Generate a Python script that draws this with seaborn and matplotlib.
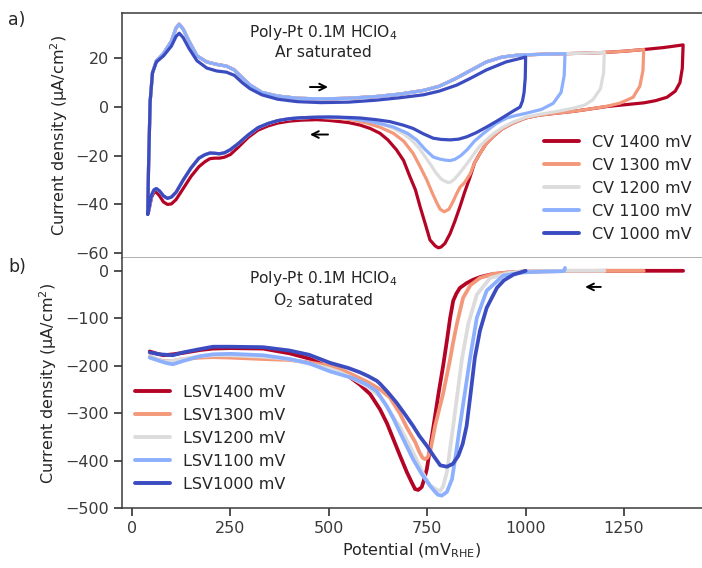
import numpy as np
import pandas as pd
import matplotlib
matplotlib.use("Agg")
import matplotlib.pyplot as plt
import seaborn as sns

# ---------------- data ----------------
cv_labels = ["CV 1400 mV", "CV 1300 mV", "CV 1200 mV", "CV 1100 mV", "CV 1000 mV"]
lsv_labels = ["LSV1400 mV", "LSV1300 mV", "LSV1200 mV", "LSV1100 mV", "LSV1000 mV"]
colors = ["#b40426", "#f4987a", "#dddcdc", "#8db0fe", "#3b4cc0"]

# anodic (forward) sweep, low-potential part
E_fwd_low = [40, 42, 46, 52, 62, 80, 100, 112, 120, 130, 145, 165, 190, 215, 240, 260, 280, 300, 330, 370, 420, 480, 550, 620, 680, 740]
j_fwd_low = [-44, -25, 2, 14, 19, 22, 27, 32.5, 34, 32, 27, 21, 18.5, 17.5, 16.8, 15.2, 12, 9, 6, 4.5, 3.6, 3.3, 3.6, 4.3, 5.3, 6.8]
j_fwd_low_1000 = [-44, -25, 2, 14, 18.5, 21, 25, 29, 30.3, 28.5, 24, 19, 16, 14.8, 14.3, 13, 10, 7.5, 5, 3.2, 2.2, 1.8, 2, 2.8, 3.8, 5]

# anodic sweep, high-potential part
E_fwd_high = [780, 820, 860, 900, 940, 980, 1050, 1100, 1150, 1200, 1250, 1300, 1350, 1400]
j_fwd_high = [8.5, 11.5, 15, 18.5, 20.5, 21.3, 21.7, 21.9, 22.1, 22.4, 22.9, 23.6, 24.4, 25.5]
E_fwd_high_1000 = [780, 825, 860, 900, 950, 1000]
j_fwd_high_1000 = [6.5, 9, 11.8, 15.2, 18.5, 20.5]

# cathodic (backward) sweeps, high-potential part
E_back_1400 = [1400, 1398, 1392, 1380, 1359, 1330, 1300, 1250, 1206, 1160, 1121, 1080, 1036, 1000, 968, 940, 918, 900, 884, 870, 859, 845, 833, 820, 808, 795, 785, 778, 770, 757, 745, 732, 720, 706, 690, 672, 650, 630, 605, 579, 550, 528, 500]
j_back_1400 = [25.5, 16, 10, 6.5, 4, 2.6, 1.7, 0.9, 0.2, -0.9, -1.8, -2.5, -3.3, -4.5, -6.6, -9, -12, -15, -19, -23, -28.6, -35, -41, -47, -52, -56, -57.5, -57.8, -57, -54.6, -48, -41, -34, -28.6, -22, -17.6, -13.5, -10.8, -8.8, -7.4, -6.4, -6, -5.5]
E_back_1300 = [1300, 1298, 1290, 1273, 1240, 1206, 1160, 1121, 1080, 1036, 1000, 968, 940, 918, 900, 884, 870, 859, 845, 833, 825, 815, 805, 793, 783, 775, 762, 749, 732, 714, 690, 664, 630, 597, 560, 528, 500]
j_back_1300 = [23.6, 15, 8.5, 4, 1.6, 0.3, -0.9, -1.8, -2.5, -3.3, -4.5, -6.6, -9, -12, -15, -19, -23, -27.5, -31, -33, -35.5, -39, -42, -43, -42, -39.6, -35, -30, -24.5, -19, -14, -10.8, -8.3, -6.6, -5.3, -4.6, -4.4]
E_back_1200 = [1200, 1198, 1190, 1171, 1150, 1121, 1080, 1036, 1000, 968, 940, 918, 900, 884, 870, 859, 845, 833, 820, 810, 803, 795, 785, 772, 760, 745, 730, 710, 690, 665, 640, 610, 580, 550, 528, 500]
j_back_1200 = [22.4, 14, 7.5, 3, 0.8, -0.5, -1.8, -3, -4.2, -6.2, -8.5, -11, -13.5, -16, -19, -21.5, -24.5, -27, -29.5, -30.8, -31, -30.5, -29.5, -27, -24, -20.5, -17, -13.5, -11, -8.8, -7.3, -6, -5.2, -4.7, -4.5, -4.4]
E_back_1100 = [1100, 1098, 1090, 1070, 1040, 1003, 975, 952, 925, 893, 870, 851, 835, 820, 808, 795, 780, 765, 745, 723, 700, 664, 630, 597, 560, 528, 500]
j_back_1100 = [21.9, 13, 6, 1.5, -1, -2.5, -3.5, -4.5, -6.8, -10.8, -14, -17.6, -20, -21.5, -22, -21.8, -21.3, -20.5, -17.5, -13.5, -10.8, -8.2, -6.8, -5.7, -4.8, -4.2, -4.1]
E_back_1000 = [1000, 999, 996, 992, 986, 970, 952, 930, 901, 875, 851, 830, 808, 785, 765, 740, 714, 690, 655, 620, 579, 550, 528, 500]
j_back_1000 = [20.5, 12, 6, 2.5, 0, -1.5, -3.3, -5.5, -8.2, -10.5, -12.2, -13.2, -13.5, -13.3, -12.8, -11, -8.8, -7.5, -6, -5.2, -4.5, -4.3, -4.2, -4.1]

# cathodic sweep, low-potential part
E_back_low = [470, 430, 400, 370, 345, 320, 295, 270, 250, 235, 222, 210, 198, 185, 170, 150, 130, 112, 100, 90, 80, 70, 62, 56, 50, 46, 43, 40]
j_back_low = [-4.2, -4.4, -4.8, -5.6, -6.8, -8.5, -11.5, -15, -17.5, -18.8, -19.2, -19, -18.9, -19.6, -21, -25, -30, -35, -37, -37.5, -36.5, -34.5, -33.5, -34, -36, -39, -42, -44]
j_back_low_1400 = [-5.2, -5.4, -5.8, -6.6, -7.8, -9.5, -12.5, -16.5, -19.5, -20.6, -21, -21, -21.2, -22.5, -24.5, -28.5, -33.5, -38, -39.8, -40, -39, -36.5, -35, -35, -37, -40, -42.5, -44]

# LSV curves (O2 saturated), swept from E_max down to ~45 mV
E_lsv_1400 = [1400, 1300, 1200, 1100, 1000, 950, 910, 885, 866, 850, 833, 824, 816, 808, 800, 791, 778, 766, 757, 749, 742, 736, 727, 719, 710, 698, 681, 664, 648, 630, 605, 579, 550, 528, 500, 450, 400, 333, 250, 206, 173, 130, 104, 80, 60, 45]
j_lsv_1400 = [0, 0, 0, -0.5, -1.5, -4, -8, -13, -19, -26, -36, -48, -63, -100, -147, -197, -262, -327, -375, -418, -440, -456, -462, -460, -445, -424, -390, -355, -322, -292, -260, -240, -222, -212, -203, -185, -174, -164, -163, -164, -167, -173, -176, -178, -174, -170]
E_lsv_1300 = [1300, 1200, 1100, 1000, 920, 884, 860, 841, 825, 816, 808, 790, 770, 757, 750, 744, 738, 730, 720, 698, 680, 655, 630, 600, 550, 528, 500, 450, 400, 333, 250, 206, 173, 130, 104, 80, 60, 45]
j_lsv_1300 = [0, 0, 0, -1, -6, -15, -30, -57, -113, -150, -187, -260, -327, -383, -394, -397, -394, -382, -362, -330, -300, -267, -250, -235, -215, -207, -200, -193, -188, -186, -183, -182, -183, -186, -190, -190, -186, -180]
E_lsv_1200 = [1200, 1100, 1000, 960, 910, 876, 854, 838, 816, 800, 790, 783, 775, 757, 740, 723, 700, 681, 650, 630, 600, 550, 528, 500, 450, 400, 333, 250, 206, 173, 130, 104, 80, 60, 45]
j_lsv_1200 = [0, 0, -1, -4, -15, -50, -113, -187, -327, -424, -455, -464, -462, -452, -428, -398, -360, -330, -290, -265, -245, -222, -214, -206, -196, -186, -181, -178, -178, -180, -186, -190, -191, -186, -181]
E_lsv_1100 = [1100, 1098, 1090, 1050, 1000, 943, 901, 876, 859, 846, 833, 823, 813, 800, 787, 777, 768, 757, 735, 714, 698, 681, 665, 647, 630, 622, 597, 560, 503, 450, 400, 333, 250, 206, 173, 130, 104, 90, 70, 45]
j_lsv_1100 = [6, 0, -1, -1.5, -3, -10, -42, -99, -183, -255, -327, -385, -439, -466, -474, -472, -464, -453, -427, -397, -370, -341, -313, -285, -264, -254, -240, -226, -212, -195, -186, -178, -175, -176, -180, -190, -197, -195, -190, -183]
E_lsv_1000 = [1000, 969, 945, 927, 901, 884, 871, 860, 850, 840, 829, 815, 800, 783, 766, 749, 730, 714, 693, 672, 650, 630, 622, 600, 579, 550, 503, 450, 400, 333, 250, 206, 173, 130, 104, 70, 45]
j_lsv_1000 = [0, -8, -20, -36, -78, -126, -183, -260, -327, -365, -390, -407, -413, -410, -390, -369, -348, -327, -302, -278, -256, -238, -232, -222, -214, -205, -194, -177, -168, -161, -160, -160, -165, -172, -178, -176, -172]

# ---------------- assemble tables ----------------
def cv_curve(label, Emax, E_hi, j_hi, jlow_f, E_b, j_b, jlow_b):
    E_h = [e for e in E_hi if e <= Emax]
    j_h = [j for e, j in zip(E_hi, j_hi) if e <= Emax]
    E = list(E_fwd_low) + E_h + list(E_b) + list(E_back_low)
    J = list(jlow_f) + j_h + list(j_b) + list(jlow_b)
    return pd.DataFrame({"E": E, "j": J, "label": label})

cv_df = pd.concat([
    cv_curve(cv_labels[0], 1400, E_fwd_high, j_fwd_high, j_fwd_low, E_back_1400, j_back_1400, j_back_low_1400),
    cv_curve(cv_labels[1], 1300, E_fwd_high, j_fwd_high, j_fwd_low, E_back_1300, j_back_1300, j_back_low),
    cv_curve(cv_labels[2], 1200, E_fwd_high, j_fwd_high, j_fwd_low, E_back_1200, j_back_1200, j_back_low),
    cv_curve(cv_labels[3], 1100, E_fwd_high, j_fwd_high, j_fwd_low, E_back_1100, j_back_1100, j_back_low),
    cv_curve(cv_labels[4], 1000, E_fwd_high_1000, j_fwd_high_1000, j_fwd_low_1000, E_back_1000, j_back_1000, j_back_low),
], ignore_index=True)

lsv_df = pd.concat([
    pd.DataFrame({"E": E_lsv_1400, "j": j_lsv_1400, "label": lsv_labels[0]}),
    pd.DataFrame({"E": E_lsv_1300, "j": j_lsv_1300, "label": lsv_labels[1]}),
    pd.DataFrame({"E": E_lsv_1200, "j": j_lsv_1200, "label": lsv_labels[2]}),
    pd.DataFrame({"E": E_lsv_1100, "j": j_lsv_1100, "label": lsv_labels[3]}),
    pd.DataFrame({"E": E_lsv_1000, "j": j_lsv_1000, "label": lsv_labels[4]}),
], ignore_index=True)

# ---------------- style ----------------
sns.set_theme(style="ticks", rc={"axes.edgecolor": "#3a3a3a", "xtick.color": "#3a3a3a",
                                 "ytick.color": "#3a3a3a", "axes.linewidth": 1.1})
plt.rcParams["font.family"] = ["DejaVu Sans"]
FS = 11.5

fig = plt.figure(figsize=(7.02, 5.68), dpi=100)
L, W = 122 / 702, 580 / 702
ax1 = fig.add_axes([L, 1 - 258 / 568, W, (258 - 13) / 568])
ax2 = fig.add_axes([L, 1 - 508 / 568, W, (508 - 258) / 568])

sns.lineplot(data=cv_df, x="E", y="j", hue="label", hue_order=cv_labels, palette=colors,
             sort=False, estimator=None, lw=2.3, ax=ax1)
sns.lineplot(data=lsv_df, x="E", y="j", hue="label", hue_order=lsv_labels, palette=colors,
             sort=False, estimator=None, lw=2.7, ax=ax2)

xlim = (-25.4, 1448)
ax1.set_xlim(xlim)
ax2.set_xlim(xlim)
ax1.set_ylim(-62, 38.6)
ax2.set_ylim(-500, 27)

ax1.set_yticks([-60, -40, -20, 0, 20])
ax2.set_yticks([-500, -400, -300, -200, -100, 0])
ax2.set_xticks([0, 250, 500, 750, 1000, 1250])

ax1.tick_params(axis="x", bottom=False, labelbottom=False)
ax1.tick_params(axis="y", labelsize=FS)
ax2.tick_params(labelsize=FS)

ax1.spines["right"].set_visible(False)
ax1.spines["bottom"].set_color("#9a9a9a")
ax2.spines["right"].set_visible(False)
ax2.spines["top"].set_visible(False)

ax1.set_xlabel("")
ax1.set_ylabel("Current density (μA/cm$^2$)", fontsize=FS)
ax2.set_ylabel("Current density (μA/cm$^2$)", fontsize=FS)
ax2.set_xlabel("Potential (mV$_\\mathregular{RHE}$)", fontsize=FS)

h1, l1 = ax1.get_legend_handles_labels()
ax1.legend(h1, l1, loc="lower right", bbox_to_anchor=(0.993, 0.04), borderaxespad=0,
           frameon=False, fontsize=FS, handlelength=2.2)
h2, l2 = ax2.get_legend_handles_labels()
ax2.legend(h2, l2, loc="lower left", bbox_to_anchor=(0.012, 0.04), borderaxespad=0,
           frameon=False, fontsize=FS, handlelength=2.2)
for lg in (ax1.get_legend(), ax2.get_legend()):
    for ln in lg.get_lines():
        ln.set_linewidth(2.8)

ax1.text(485, 26.8, "Poly-Pt 0.1M HClO$_4$\nAr saturated", ha="center", va="center",
         fontsize=FS - 0.3, linespacing=1.25)
ax2.text(485, -38.9, "Poly-Pt 0.1M HClO$_4$\nO$_2$ saturated", ha="center", va="center",
         fontsize=FS - 0.3, linespacing=1.2)

arrow = dict(arrowstyle="->", color="black", lw=1.4, mutation_scale=12)
ax1.annotate("", xy=(505, 8.2), xytext=(445, 8.2), arrowprops=arrow)
ax1.annotate("", xy=(445, -11.3), xytext=(505, -11.3), arrowprops=arrow)
ax2.annotate("", xy=(1144, -34), xytext=(1198, -34), arrowprops=arrow)

fig.text(8 / 702, 1 - 20 / 568, "a)", fontsize=FS + 1, va="center", ha="left")
fig.text(8 / 702, 1 - 267 / 568, "b)", fontsize=FS + 1, va="center", ha="left")

fig.savefig("out.png", dpi=100)
